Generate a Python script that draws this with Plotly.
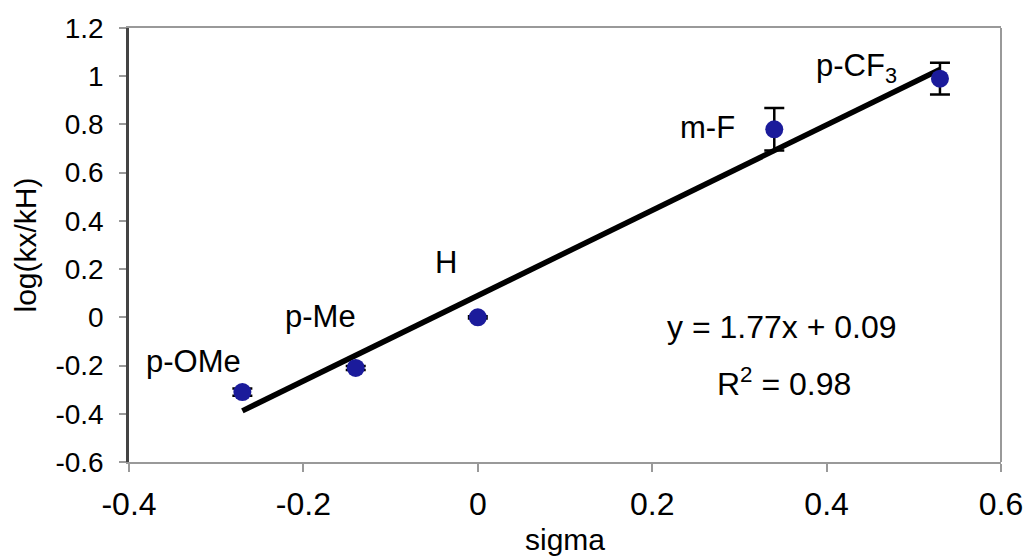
import plotly.graph_objects as go

# Data
substituents = ["p-OMe", "p-Me", "H", "m-F", "p-CF<sub>3</sub>"]
sigma = [-0.27, -0.14, 0.0, 0.34, 0.53]
log_ratio = [-0.31, -0.21, 0.0, 0.78, 0.99]
log_err = [0.015, 0.008, 0.005, 0.088, 0.066]
fit_slope = 1.77
fit_intercept = 0.09
fit_eq_text = "y = 1.77x + 0.09"
fit_r2_text = "R<sup>2</sup> = 0.98"
x_ticks = [-0.4, -0.2, 0.0, 0.2, 0.4, 0.6]
x_tick_labels = ["-0.4", "-0.2", "0", "0.2", "0.4", "0.6"]
y_ticks = [-0.6, -0.4, -0.2, 0.0, 0.2, 0.4, 0.6, 0.8, 1.0, 1.2]
y_tick_labels = ["-0.6", "-0.4", "-0.2", "0", "0.2", "0.4", "0.6", "0.8", "1", "1.2"]

# label positions (data coords)
label_pos = [(-0.326, -0.185), (-0.180, 0.002), (-0.036, 0.228), (0.263, 0.787), (0.434, 1.036)]

FONT = "Liberation Sans, Arial, sans-serif"

fig = go.Figure()

fit_x = [min(sigma), max(sigma)]
fit_y = [fit_slope * v + fit_intercept for v in fit_x]
fig.add_trace(go.Scatter(x=fit_x, y=fit_y, mode="lines",
                         line=dict(color="black", width=5.5), showlegend=False,
                         hoverinfo="skip"))

fig.add_trace(go.Scatter(
    x=sigma, y=log_ratio, mode="markers",
    marker=dict(color="#1b1b9b", size=18),
    error_y=dict(type="data", array=log_err, visible=True, color="black",
                 thickness=2.5, width=10),
    showlegend=False))

for name, (lx, ly) in zip(substituents, label_pos):
    fig.add_annotation(x=lx, y=ly, text=name, showarrow=False,
                       font=dict(family=FONT, size=31, color="black"))

fig.add_annotation(x=0.349, y=-0.039, text=fit_eq_text, showarrow=False,
                   font=dict(family=FONT, size=32, color="black"))
fig.add_annotation(x=0.351, y=-0.268, text=fit_r2_text, showarrow=False,
                   font=dict(family=FONT, size=32, color="black"))

# right border (gray)
fig.add_shape(type="line", xref="paper", yref="paper", x0=1, x1=1, y0=0, y1=1,
              line=dict(color="#999999", width=2))

fig.update_layout(
    width=1029, height=558,
    margin=dict(l=129, r=28, t=28, b=96),
    plot_bgcolor="white", paper_bgcolor="white",
    font=dict(family=FONT, color="black"),
    xaxis=dict(range=[-0.4, 0.6], tickvals=x_ticks, ticktext=x_tick_labels,
               showgrid=False, zeroline=False, showline=True, mirror=True,
               linecolor="#999999", linewidth=2, ticks="outside", ticklen=8,
               tickcolor="#999999", tickwidth=1.5, automargin=False,
               tickfont=dict(family=FONT, size=32), ticklabelstandoff=5,
               title=dict(text="sigma", font=dict(family=FONT, size=30), standoff=8)),
    yaxis=dict(range=[-0.6, 1.2], tickvals=y_ticks, ticktext=y_tick_labels,
               showgrid=False, zeroline=False, showline=True, mirror=False,
               linecolor="#444444", linewidth=2.5, ticks="outside", ticklen=7,
               tickcolor="#999999", tickwidth=1.5, automargin=False,
               tickfont=dict(family=FONT, size=28), ticklabelstandoff=10,
               title=dict(text="log(kx/kH)", font=dict(family=FONT, size=30), standoff=10)),
)

fig.write_html("out.html")
